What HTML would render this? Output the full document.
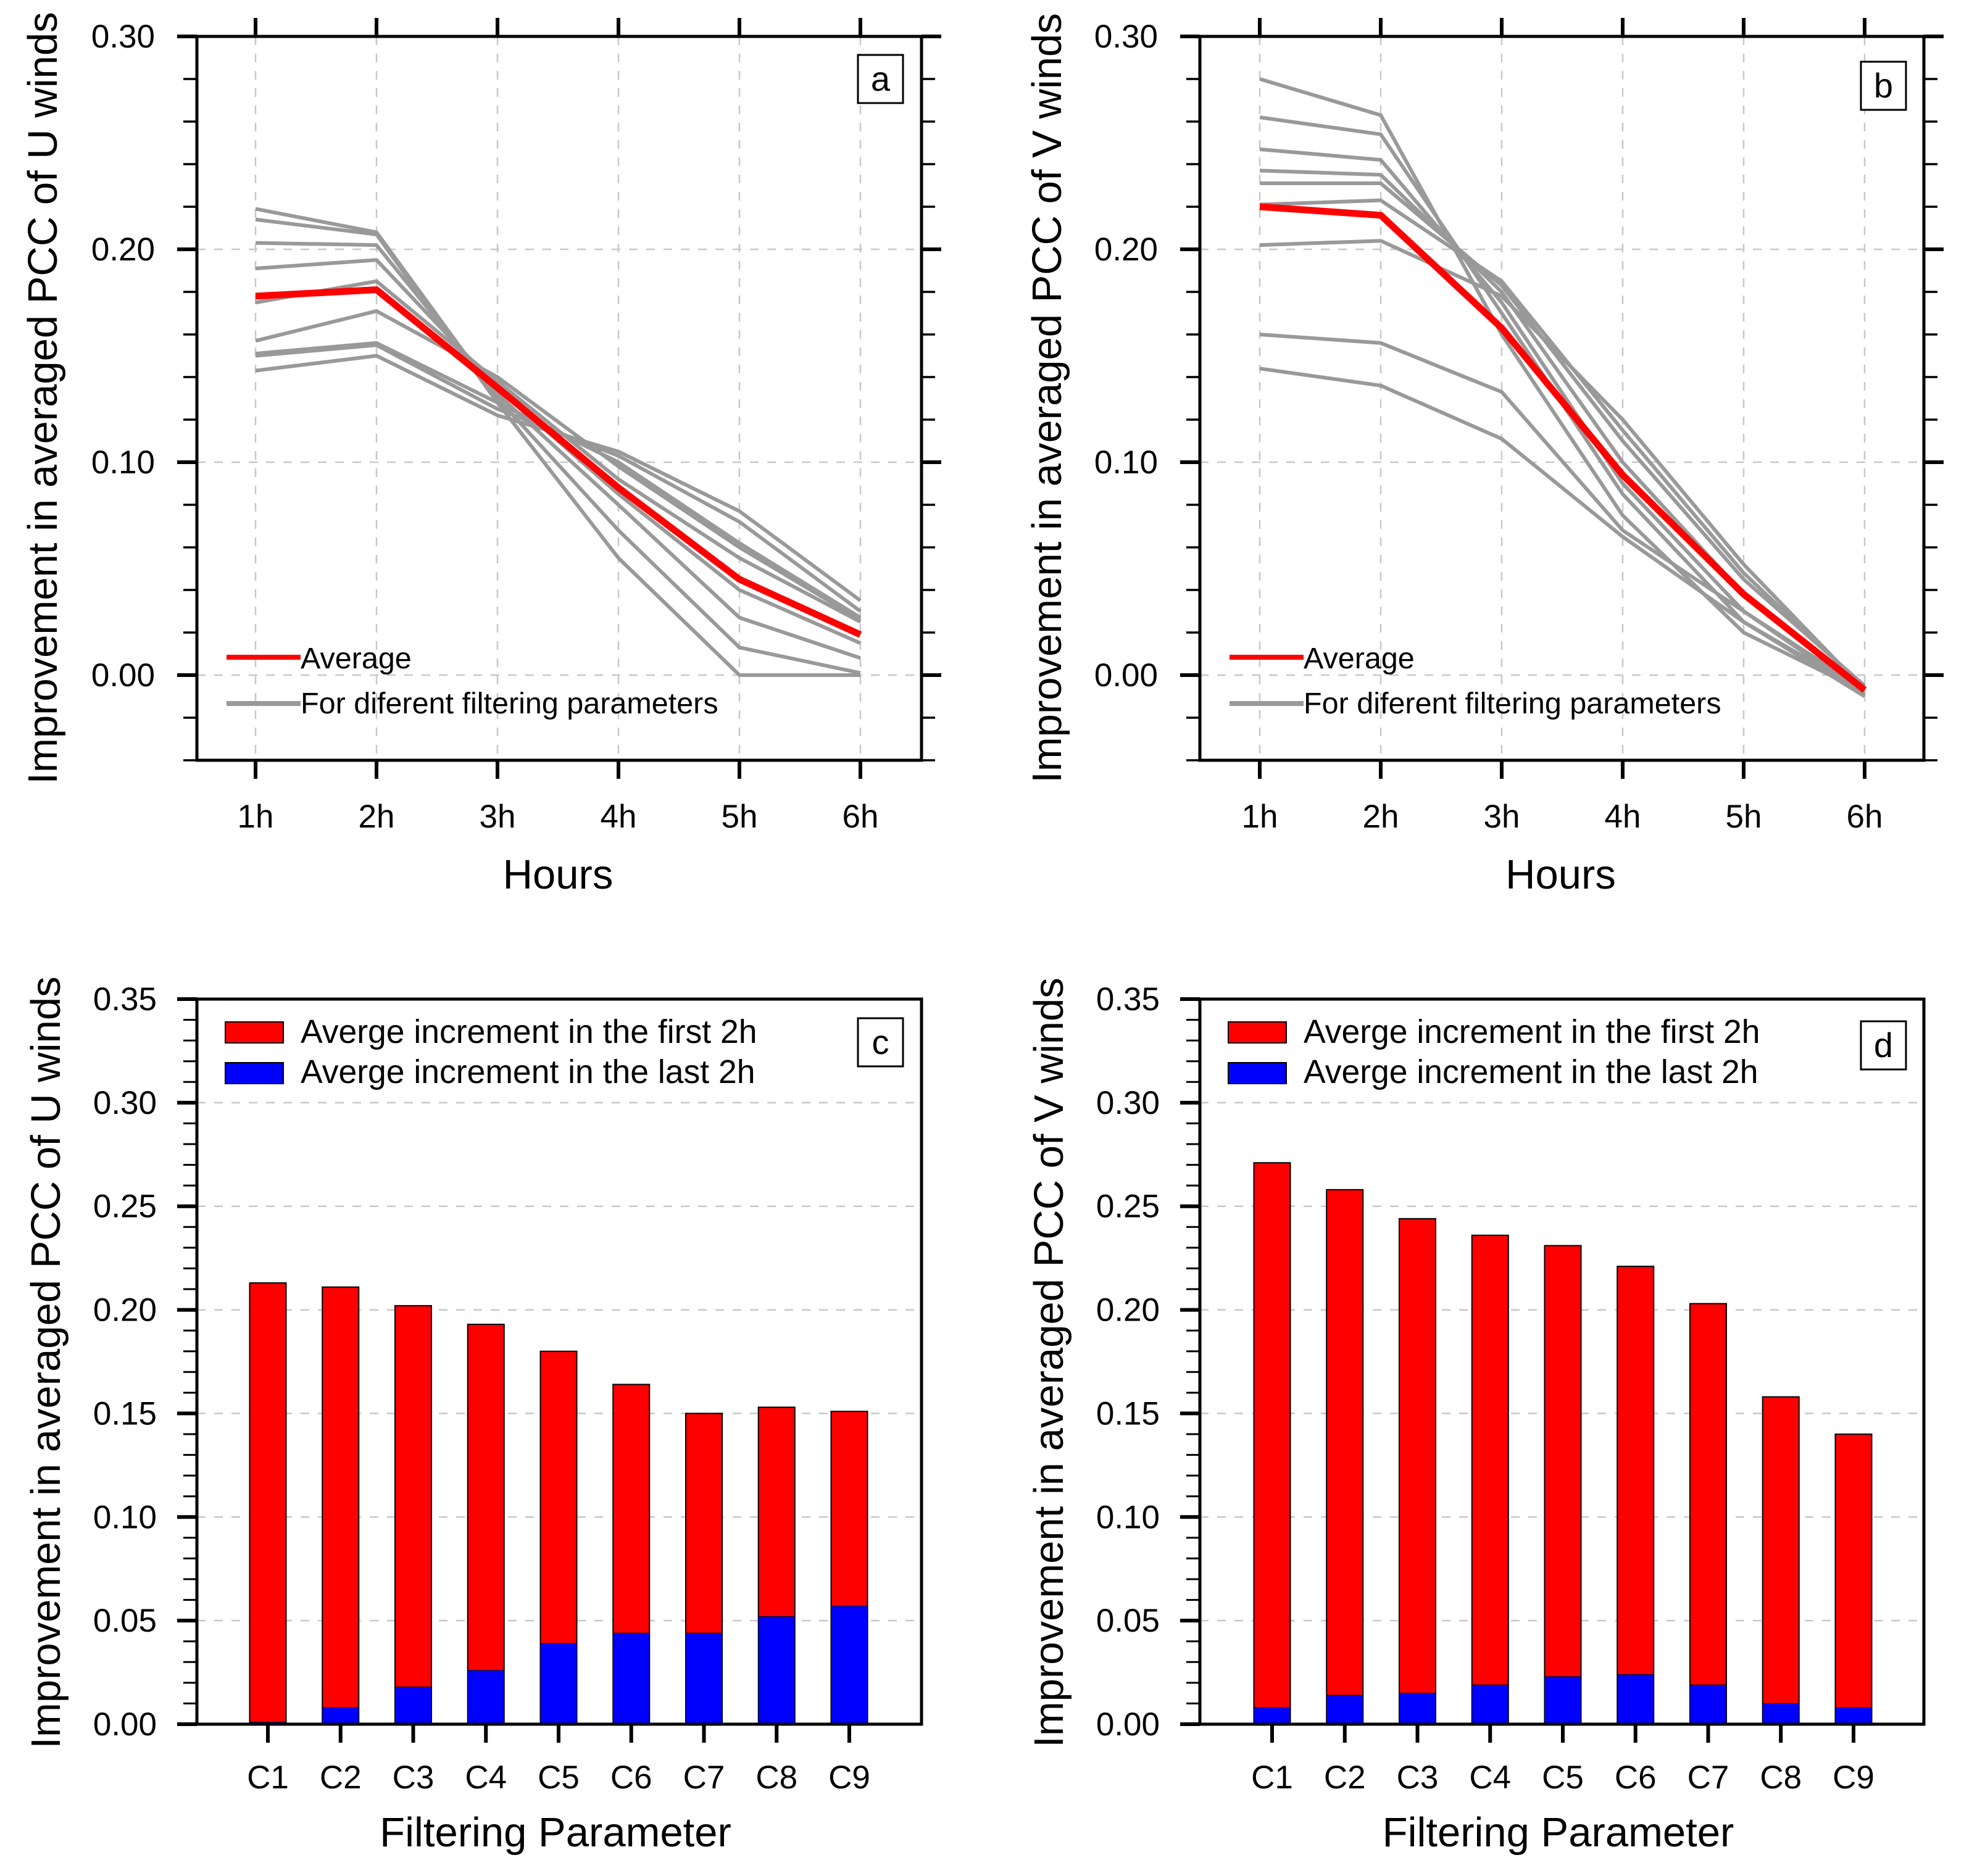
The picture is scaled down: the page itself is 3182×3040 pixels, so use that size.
<!DOCTYPE html>
<html><head><meta charset="utf-8">
<style>
html,body{margin:0;padding:0;background:#fff;}
svg{display:block;font-family:"Liberation Sans",sans-serif;}
</style></head>
<body>
<svg id="fig" width="3182" height="3040" viewBox="0 0 3182 3040" xmlns="http://www.w3.org/2000/svg"></svg>
<script>
// ---- data ----
const hours = ["1h","2h","3h","4h","5h","6h"];
const uAverage = [0.178,0.181,0.135,0.088,0.045,0.019];
const uSeries1 = [0.219,0.208,0.130,0.068,0.013,0.001];
const uSeries2 = [0.214,0.207,0.128,0.055,0.000,0.000];
const uSeries3 = [0.203,0.202,0.132,0.080,0.027,0.008];
const uSeries4 = [0.191,0.195,0.135,0.085,0.040,0.015];
const uSeries5 = [0.175,0.185,0.138,0.092,0.055,0.025];
const uSeries6 = [0.157,0.171,0.140,0.098,0.060,0.026];
const uSeries7 = [0.151,0.156,0.128,0.100,0.062,0.027];
const uSeries8 = [0.150,0.155,0.125,0.103,0.072,0.030];
const uSeries9 = [0.143,0.150,0.122,0.105,0.077,0.035];
const vAverage = [0.220,0.216,0.163,0.094,0.038,-0.007];
const vSeries1 = [0.280,0.263,0.160,0.075,0.020,-0.008];
const vSeries2 = [0.262,0.254,0.170,0.085,0.025,-0.008];
const vSeries3 = [0.247,0.242,0.175,0.090,0.030,-0.007];
const vSeries4 = [0.237,0.235,0.180,0.100,0.038,-0.006];
const vSeries5 = [0.231,0.231,0.183,0.110,0.045,-0.005];
const vSeries6 = [0.221,0.223,0.185,0.115,0.048,-0.006];
const vSeries7 = [0.202,0.204,0.178,0.120,0.052,-0.007];
const vSeries8 = [0.160,0.156,0.133,0.068,0.030,-0.009];
const vSeries9 = [0.144,0.136,0.111,0.065,0.025,-0.010];
const params = ["C1","C2","C3","C4","C5","C6","C7","C8","C9"];
const uFirst2h = [0.213,0.211,0.202,0.193,0.180,0.164,0.150,0.153,0.151];
const uLast2h = [0.001,0.008,0.018,0.026,0.039,0.044,0.044,0.052,0.057];
const vFirst2h = [0.271,0.258,0.244,0.236,0.231,0.221,0.203,0.158,0.140];
const vLast2h = [0.008,0.014,0.015,0.019,0.023,0.024,0.019,0.010,0.008];
const lineTicks = ["0.00","0.10","0.20","0.30"];
const barTicks = ["0.00","0.05","0.10","0.15","0.20","0.25","0.30","0.35"];

const NS="http://www.w3.org/2000/svg";
const svg=document.getElementById('fig');
function mk(tag,attrs,parent,text){
  const e=document.createElementNS(NS,tag);
  for(const k in attrs) e.setAttribute(k,attrs[k]);
  if(text!==undefined) e.textContent=text;
  (parent||svg).appendChild(e);
  return e;
}

function linePanel(o){
  const g=mk('g',{});
  
  
  const L=o.L,R=o.R,T=59,B=1232,ymin=-0.04,ymax=0.30;
  const y=v=>B-(v-ymin)/(ymax-ymin)*(B-T);
  const x=i=>o.x0+i*(o.x1-o.x0)/5;
  hours.forEach((h,i)=>{const e=mk('line',{x1:x(i),x2:x(i),y1:T,y2:B,stroke:'#c8c8c8','stroke-width':2.5,'stroke-dasharray':'14,14'},g);
    });
  lineTicks.forEach(t=>{const v=+t;if(v>=0&&v<0.3){const e=mk('line',{x1:L,x2:R,y1:y(v),y2:y(v),stroke:'#c8c8c8','stroke-width':2.5,'stroke-dasharray':'14,14'},g);
    }});
  const ser=[o.s1,o.s2,o.s3,o.s4,o.s5,o.s6,o.s7,o.s8,o.s9];
  ser.forEach((s,k)=>{
    const e=mk('polyline',{points:s.map((v,i)=>x(i)+','+y(v)).join(' '),fill:'none',stroke:'#999','stroke-width':6,'stroke-linejoin':'round'},g);
    
    
  });
  const av=mk('polyline',{points:o.avg.map((v,i)=>x(i)+','+y(v)).join(' '),fill:'none',stroke:'#ff0000','stroke-width':11,'stroke-linejoin':'round'},g);
  
  
  mk('rect',{x:L,y:T,width:R-L,height:B-T,fill:'none',stroke:'#000','stroke-width':5},g);
  for(let v=-0.04;v<=0.3001;v+=0.02){
    const major=Math.abs(Math.round(v*100)%10)===0;
    const len=major?32:22;
    mk('line',{x1:L-len,x2:L,y1:y(v),y2:y(v),stroke:'#000','stroke-width':major?6:3.5},g);
    mk('line',{x1:R,x2:R+len,y1:y(v),y2:y(v),stroke:'#000','stroke-width':major?6:3.5},g);
  }
  hours.forEach((h,i)=>{
    mk('line',{x1:x(i),x2:x(i),y1:T-30,y2:T,stroke:'#000','stroke-width':6},g);
    mk('line',{x1:x(i),x2:x(i),y1:B,y2:B+30,stroke:'#000','stroke-width':6},g);
    const t=mk('text',{x:x(i),y:1341,'font-size':53,'text-anchor':'middle'},g,h);
    
  });
  lineTicks.forEach(tl=>{
    const t=mk('text',{x:L-68,y:y(+tl)+18,'font-size':53,'text-anchor':'end'},g,tl);
    
  });
  const xt=mk('text',{x:(L+R)/2-2,y:1440,'font-size':67,'text-anchor':'middle'},g,'Hours');
  
  const yt=mk('text',{x:0,y:0,'font-size':67,'text-anchor':'middle',transform:`translate(${o.ytx},645) rotate(-90)`},g,o.ytitle);
  
  const lg=mk('g',{},g);
  
  mk('line',{x1:L+48,x2:L+168,y1:1065,y2:1065,stroke:'#ff0000','stroke-width':8},lg);
  mk('text',{x:L+168,y:1083,'font-size':48.5},lg,'Average');
  mk('line',{x1:L+48,x2:L+168,y1:1140,y2:1140,stroke:'#999','stroke-width':8},lg);
  mk('text',{x:L+168,y:1156,'font-size':48.5},lg,'For diferent filtering parameters');
  const bx=mk('g',{},g);
  mk('rect',{x:o.bx,y:o.by,width:73,height:78,fill:'#fff',stroke:'#000','stroke-width':3},bx);
  mk('text',{x:o.bx+36.5,y:o.by+58,'font-size':56,'text-anchor':'middle'},bx,o.label);
}

function barPanel(o){
  const g=mk('g',{});
  
  
  const L=o.L,R=o.R,T=1619,B=2794,ymax=0.35;
  const y=v=>B-v/ymax*(B-T);
  const x=i=>o.x0+i*(o.x1-o.x0)/8;
  barTicks.forEach(tl=>{const v=+tl;if(v>0&&v<0.35){const e=mk('line',{x1:L,x2:R,y1:y(v),y2:y(v),stroke:'#c8c8c8','stroke-width':2.5,'stroke-dasharray':'14,14'},g);
    }});
  const bw=59;
  params.forEach((p,i)=>{
    const r=mk('rect',{x:x(i)-bw/2,y:y(o.first[i]),width:bw,height:y(0)-y(o.first[i]),fill:'#ff0000',stroke:'#000','stroke-width':2},g);
    
    const b=mk('rect',{x:x(i)-bw/2,y:y(o.last[i]),width:bw,height:y(0)-y(o.last[i]),fill:'#0000ff',stroke:'#000','stroke-width':1},g);
    
    mk('line',{x1:x(i),x2:x(i),y1:B,y2:B+30,stroke:'#000','stroke-width':6},g);
    const t=mk('text',{x:x(i),y:2898,'font-size':53,'text-anchor':'middle'},g,p);
    
  });
  mk('rect',{x:L,y:T,width:R-L,height:B-T,fill:'none',stroke:'#000','stroke-width':5},g);
  for(let k=0;k<=35;k++){
    const major=k%5===0;
    mk('line',{x1:L-(major?32:22),x2:L,y1:y(k/100),y2:y(k/100),stroke:'#000','stroke-width':major?6:3},g);
  }
  barTicks.forEach(tl=>{
    const t=mk('text',{x:L-65,y:y(+tl)+18,'font-size':53,'text-anchor':'end'},g,tl);
    
  });
  const xt=mk('text',{x:(L+R)/2-6,y:2992,'font-size':67,'text-anchor':'middle'},g,'Filtering Parameter');
  
  const yt=mk('text',{x:0,y:0,'font-size':67,'text-anchor':'middle',transform:`translate(${o.ytx},2208) rotate(-90)`},g,o.ytitle);
  
  const lg=mk('g',{},g);
  
  mk('rect',{x:L+46,y:1656,width:94,height:34,fill:'#ff0000',stroke:'#000','stroke-width':2},lg);
  mk('text',{x:L+168,y:1690,'font-size':53.5},lg,'Averge increment in the first 2h');
  mk('rect',{x:L+46,y:1722,width:94,height:34,fill:'#0000ff',stroke:'#000','stroke-width':2},lg);
  mk('text',{x:L+168,y:1755,'font-size':53.5},lg,'Averge increment in the last 2h');
  const bx=mk('g',{},g);
  mk('rect',{x:o.bx,y:o.by,width:73,height:78,fill:'#fff',stroke:'#000','stroke-width':3},bx);
  mk('text',{x:o.bx+36.5,y:o.by+58,'font-size':56,'text-anchor':'middle'},bx,o.label);
}

linePanel({name:'panel-a-u-winds',L:319,R:1493,x0:414,x1:1394,avg:uAverage,
  s1:uSeries1,s2:uSeries2,s3:uSeries3,s4:uSeries4,s5:uSeries5,s6:uSeries6,s7:uSeries7,s8:uSeries8,s9:uSeries9,
  ytitle:'Improvement in averaged PCC of U winds',ytx:92,bx:1390,by:89,label:'a'});
linePanel({name:'panel-b-v-winds',L:1944,R:3117,x0:2041,x1:3021,avg:vAverage,
  s1:vSeries1,s2:vSeries2,s3:vSeries3,s4:vSeries4,s5:vSeries5,s6:vSeries6,s7:vSeries7,s8:vSeries8,s9:vSeries9,
  ytitle:'Improvement in averaged PCC of V winds',ytx:1719,bx:3015,by:100,label:'b'});
barPanel({name:'panel-c-u-bars',L:319,R:1493,x0:434,x1:1376,first:uFirst2h,last:uLast2h,
  ytitle:'Improvement in averaged PCC of U winds',ytx:97,bx:1390,by:1650,label:'c'});
barPanel({name:'panel-d-v-bars',L:1944,R:3117,x0:2061,x1:3003,first:vFirst2h,last:vLast2h,
  ytitle:'Improvement in averaged PCC of V winds',ytx:1722,bx:3015,by:1655,label:'d'});
</script>
</body></html>
